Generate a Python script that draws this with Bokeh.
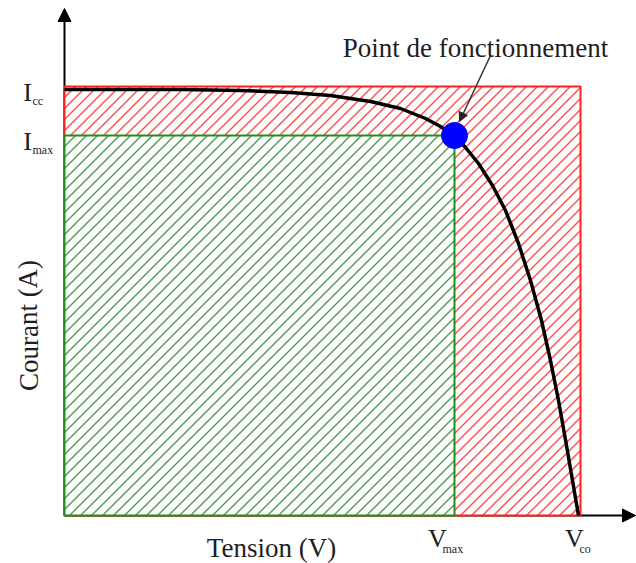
import numpy as np
from bokeh.plotting import figure
from bokeh.models import Range1d, Arrow, NormalHead, Label
from bokeh.embed import file_html
from bokeh.resources import INLINE

# I-V characteristic (arbitrary units)
tension = [0, 56, 116, 176, 226, 266, 306, 336, 361, 376, 390, 401, 414, 428, 441, 454,
           466, 477, 486, 494, 502, 508, 514]
courant = [426, 426, 426, 425, 423, 420, 414, 407, 397, 389, 380, 368, 352, 330, 305, 272,
           235, 195, 155, 115, 70, 35, 0]

V_co = 516
I_cc = 429
V_max = 390
I_max = 380

i_subs = ["cc", "max"]
v_subs = ["max", "co"]
x_title = "Tension (V)"
y_title = "Courant (A)"
annot_text = "Point de fonctionnement"

FONT = "Liberation Serif"
TXT = "#1e1e1e"


def hatch(W, H, step):
    """45 degree hatch segments clipped to the rectangle [0,W]x[0,H]."""
    x0, y0, x1, y1 = [], [], [], []
    for c in np.arange(-H, W, step):
        ys = max(0.0, -c)
        ye = min(H, W - c)
        if ye > ys:
            x0.append(ys + c); y0.append(ys)
            x1.append(ye + c); y1.append(ye)
    return x0, y0, x1, y1


p = figure(width=636, height=563, output_backend="svg", toolbar_location=None,
           x_range=Range1d(-64, 572), y_range=Range1d(-48, 515), min_border=0)
p.axis.visible = False
p.grid.visible = False
p.outline_line_color = None
p.background_fill_color = "white"

# axes arrows (beneath the rectangles)
p.add_layout(Arrow(x_start=0, y_start=0, x_end=0, y_end=507, line_color="black", line_width=2,
                   end=NormalHead(size=13, fill_color="black", line_color="black"), level="underlay"))
p.add_layout(Arrow(x_start=0, y_start=0, x_end=571, y_end=0, line_color="black", line_width=2,
                   end=NormalHead(size=13, fill_color="black", line_color="black"), level="underlay"))

STEP = 11
# red hatched rectangle (Vco x Icc)
p.quad(left=[0], right=[V_co], bottom=[0], top=[I_cc], fill_color="white", line_color=None)
rx0, ry0, rx1, ry1 = hatch(V_co, I_cc, STEP)
p.segment(rx0, ry0, rx1, ry1, line_color="#ff3a3a", line_width=1.4, line_alpha=0.9)
p.quad(left=[0], right=[V_co], bottom=[0], top=[I_cc], fill_color=None,
       line_color="#ff2020", line_width=2)
# green hatched rectangle (Vmax x Imax)
p.quad(left=[0], right=[V_max], bottom=[0], top=[I_max], fill_color="white", line_color=None)
gx0, gy0, gx1, gy1 = hatch(V_max, I_max, STEP)
p.segment(gx0, gy0, gx1, gy1, line_color="#3f8f3f", line_width=1.4, line_alpha=0.9)
p.quad(left=[0], right=[V_max], bottom=[0], top=[I_max], fill_color=None,
       line_color="#1f8f1f", line_width=2)

# curve
p.line(tension, courant, line_color="black", line_width=3.5)
# operating point
p.scatter([V_max], [I_max], size=26, fill_color="#0000ff", line_color="#0000ff")

# annotation arrow
p.add_layout(Arrow(x_start=426, y_start=460, x_end=395, y_end=394, line_color="#333333", line_width=1.5,
                   end=NormalHead(size=9, fill_color="#222222", line_color="#222222")))
p.add_layout(Label(x=411, y=468, text=annot_text, text_font=FONT, text_font_size="27px",
                   text_align="center", text_baseline="alphabetic", text_color=TXT))

# current ticks
for val, sub in zip([I_cc, I_max], i_subs):
    p.add_layout(Label(x=-37, y=val - 6, text="I", text_font=FONT, text_font_size="26px",
                       text_align="center", text_baseline="alphabetic", text_color=TXT))
    p.add_layout(Label(x=-32, y=val - 14, text=sub, text_font=FONT, text_font_size="12px",
                       text_align="left", text_baseline="alphabetic", text_color=TXT))
# voltage ticks
for val, sub, off in zip([V_max, V_co], v_subs, [-17, -6]):
    p.add_layout(Label(x=val + off, y=-23, text="V", text_font=FONT, text_font_size="26px",
                       text_align="center", text_baseline="alphabetic", text_color=TXT))
    p.add_layout(Label(x=val + off + 5, y=-33, text=sub, text_font=FONT, text_font_size="12px",
                       text_align="left", text_baseline="alphabetic", text_color=TXT))

# axis titles
p.add_layout(Label(x=207, y=-32, text=x_title, text_font=FONT, text_font_size="27px",
                   text_align="center", text_baseline="alphabetic", text_color=TXT))
p.add_layout(Label(x=-36, y=190, text=y_title, text_font=FONT, text_font_size="27px",
                   text_align="center", text_baseline="middle", angle=1.5708, text_color=TXT))

open("out.html", "w").write(file_html(p, INLINE))
